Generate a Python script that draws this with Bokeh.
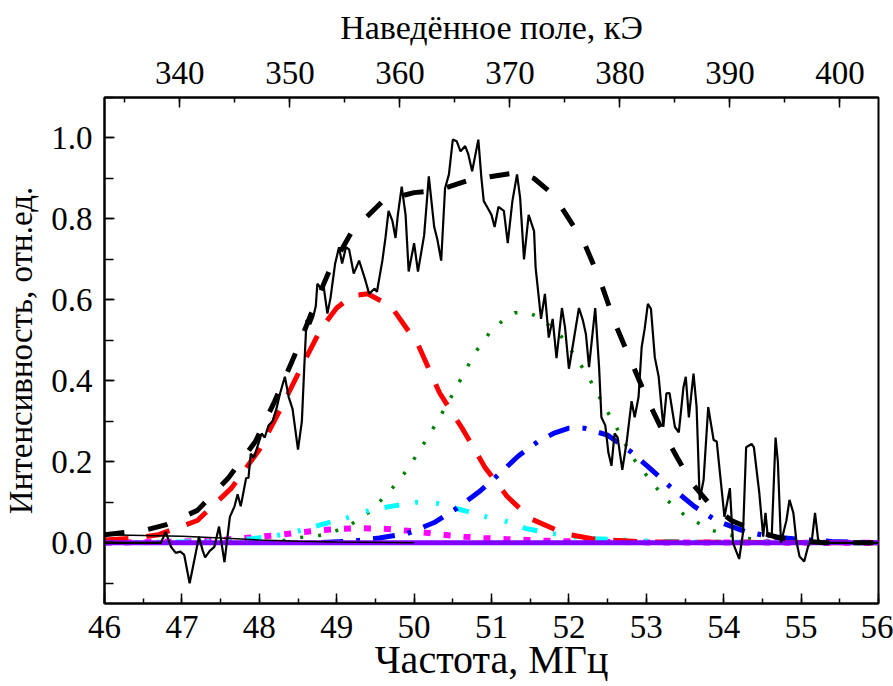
from bokeh.plotting import figure
from bokeh.models import Range1d, LinearAxis, SingleIntervalTicker, PrintfTickFormatter
from bokeh.embed import file_html
from bokeh.resources import INLINE

# ---------------- data ----------------
exp_f = [46.0, 46.73, 46.79, 46.86, 46.92, 46.98, 47.03, 47.1, 47.17, 47.22, 47.27, 47.3, 47.36, 47.42,
         47.48, 47.55, 47.62, 47.68, 47.72, 47.76, 47.83, 47.86, 47.89, 47.93, 47.98, 48.03, 48.07,
         48.12, 48.17, 48.22, 48.27, 48.33, 48.38, 48.43, 48.5, 48.55, 48.58, 48.61, 48.66, 48.7,
         48.73, 48.75, 48.79, 48.83, 48.88, 48.92, 48.98, 49.03, 49.07, 49.12, 49.16, 49.22, 49.29,
         49.36, 49.42, 49.49, 49.52, 49.59, 49.63, 49.67, 49.72, 49.76, 49.79, 49.84, 49.89, 49.93,
         50.0, 50.05, 50.13, 50.19, 50.26, 50.3, 50.35, 50.4, 50.45, 50.5, 50.55, 50.6, 50.66, 50.7,
         50.75, 50.83, 50.87, 50.9, 50.96, 51.0, 51.04, 51.09, 51.16, 51.21, 51.27, 51.33, 51.37,
         51.42, 51.48, 51.55, 51.57, 51.64, 51.69, 51.74, 51.79, 51.84, 51.91, 51.95, 52.0, 52.04,
         52.13, 52.18, 52.22, 52.26, 52.34, 52.39, 52.42, 52.47, 52.51, 52.55, 52.59, 52.63, 52.69,
         52.75, 52.81, 52.85, 52.9, 52.94, 52.98, 53.02, 53.06, 53.11, 53.16, 53.22, 53.26, 53.3,
         53.37, 53.42, 53.48, 53.51, 53.55, 53.61, 53.65, 53.69, 53.74, 53.8, 53.87, 53.91, 53.95,
         54.01, 54.08, 54.12, 54.2, 54.25, 54.29, 54.36, 54.39, 54.46, 54.51, 54.54, 54.57, 54.62,
         54.67, 54.7, 54.74, 54.81, 54.85, 54.9, 54.94, 54.98, 55.04, 55.09, 55.14, 55.18, 55.22,
         55.27, 56.0]
exp_v = [0.0, 0.0, 0.027, -0.01, -0.025, -0.022, -0.03, -0.10, -0.034, 0.015, -0.02, -0.036, -0.02, -0.01,
         0.04, -0.048, 0.064, 0.09, 0.12, 0.09, 0.16, 0.16, 0.22, 0.21, 0.24, 0.27, 0.26,
         0.29, 0.30, 0.33, 0.37, 0.41, 0.36, 0.33, 0.23, 0.30, 0.43, 0.55, 0.54, 0.56,
         0.585, 0.64, 0.63, 0.635, 0.566, 0.605, 0.69, 0.73, 0.69, 0.73, 0.725, 0.665, 0.697,
         0.655, 0.615, 0.628, 0.62, 0.697, 0.753, 0.82, 0.795, 0.753, 0.81, 0.88, 0.81, 0.67,
         0.74, 0.67, 0.76, 0.905, 0.78, 0.75, 0.697, 0.876, 0.91, 0.996, 0.992, 0.967, 0.98, 0.96,
         0.918, 0.996, 0.9, 0.844, 0.824, 0.81, 0.78, 0.83, 0.82, 0.74, 0.844, 0.91, 0.852,
         0.70, 0.81, 0.77, 0.68, 0.553, 0.615, 0.507, 0.553, 0.456, 0.58, 0.532, 0.43, 0.475,
         0.58, 0.55, 0.515, 0.434, 0.58, 0.434, 0.31, 0.29, 0.223, 0.19, 0.27, 0.26, 0.18,
         0.254, 0.35, 0.31, 0.36, 0.483, 0.53, 0.59, 0.578, 0.458, 0.41, 0.286, 0.369, 0.37,
         0.286, 0.273, 0.384, 0.41, 0.31, 0.418, 0.335, 0.106, 0.155, 0.335, 0.254, 0.25, 0.175,
         0.064, 0.135, 0.0, -0.04, 0.025, 0.236, 0.244, 0.236, 0.123, 0.015, 0.074, 0.015, 0.015,
         0.26, 0.2, 0.0, 0.055, 0.106, 0.074, 0.003, -0.034, -0.046, -0.009, 0.008, 0.074, 0.008,
         0.0, 0.0]

base_f = [46.0, 47.0, 47.5, 48.0, 48.5, 49.0, 50.0]
base_v = [0.02, 0.016, 0.012, 0.007, 0.004, 0.002, 0.0]

fit_f = [46.0, 46.5, 46.8, 47.2, 47.6, 47.95, 48.2, 48.45, 48.7, 48.9, 49.2, 49.6, 50.0, 50.3, 50.7,
         51.0, 51.35, 51.55, 51.8, 52.0, 52.2, 52.4, 52.6, 52.8, 53.0, 53.2, 53.4, 53.6, 53.8,
         54.1, 54.4, 54.7, 55.0, 55.3, 56.0]
fit_v = [0.02, 0.03, 0.045, 0.08, 0.16, 0.25, 0.35, 0.46, 0.58, 0.67, 0.77, 0.845, 0.865, 0.87, 0.895,
         0.905, 0.915, 0.90, 0.86, 0.80, 0.74, 0.65, 0.54, 0.45, 0.36, 0.28, 0.21, 0.145, 0.10,
         0.055, 0.03, 0.013, 0.005, 0.0, 0.0]

red_f = [46.0, 46.4, 46.7, 47.2, 47.64, 48.0, 48.3, 48.56, 48.8, 49.0, 49.2, 49.4, 49.7, 50.05, 50.33,
         50.63, 50.92, 51.2, 51.5, 51.95, 52.3, 52.6, 53.0, 56.0]
red_v = [0.007, 0.012, 0.02, 0.055, 0.135, 0.23, 0.34, 0.44, 0.53, 0.58, 0.61, 0.615, 0.585, 0.49, 0.37,
         0.28, 0.185, 0.115, 0.06, 0.022, 0.01, 0.006, 0.002, 0.0]

green_f = [48.3, 48.52, 48.86, 49.16, 49.43, 49.68, 49.91, 50.1, 50.27, 50.45, 50.62, 50.79, 50.98,
           51.15, 51.3, 51.45, 51.63, 51.9, 52.1, 52.28, 52.46, 52.64, 52.81, 53.03, 53.24, 53.52,
           53.86, 54.21, 54.57, 55.0, 56.0]
green_v = [0.005, 0.013, 0.02, 0.042, 0.077, 0.126, 0.18, 0.237, 0.29, 0.35, 0.41, 0.47, 0.52,
           0.55, 0.568, 0.57, 0.556, 0.51, 0.456, 0.40, 0.337, 0.276, 0.214, 0.16, 0.11, 0.064,
           0.03, 0.013, 0.005, 0.001, 0.0]

blue_f = [48.8, 49.2, 49.55, 49.9, 50.26, 50.55, 50.84, 51.1, 51.35, 51.6, 51.8, 52.0, 52.2, 52.5,
          52.8, 53.04, 53.3, 53.62, 53.9, 54.29, 54.65, 55.04, 55.4, 56.0]
blue_v = [0.001, 0.004, 0.012, 0.022, 0.05, 0.085, 0.126, 0.17, 0.215, 0.25, 0.27, 0.283, 0.283, 0.266,
          0.225, 0.185, 0.14, 0.09, 0.055, 0.027, 0.014, 0.008, 0.003, 0.0]

cyan_f = [46.0, 47.0, 47.5, 47.9, 48.2, 48.47, 48.8, 49.14, 49.42, 49.7, 50.04, 50.3, 50.6, 50.97,
          51.17, 51.45, 51.78, 52.0, 52.35, 52.9, 53.5, 56.0]
cyan_v = [0.0, 0.002, 0.005, 0.01, 0.017, 0.027, 0.045, 0.062, 0.08, 0.09, 0.1, 0.097, 0.082, 0.062,
          0.054, 0.035, 0.023, 0.016, 0.01, 0.005, 0.002, 0.0]

mag_f = [46.0, 47.0, 47.5, 47.95, 48.24, 48.5, 48.8, 49.04, 49.3, 49.58, 49.85, 50.1, 50.37, 50.65,
         50.9, 51.2, 51.45, 51.7, 52.2, 53.0, 56.0]
mag_v = [0.0, 0.003, 0.007, 0.014, 0.019, 0.025, 0.031, 0.034, 0.036, 0.035, 0.031, 0.026, 0.02, 0.015,
         0.012, 0.009, 0.007, 0.005, 0.003, 0.001, 0.0]

zero_f = [46.0, 56.0]
zero_v = [0.0, 0.0]

x_label = "Частота, МГц"
top_label = "Наведённое поле, кЭ"
y_label = "Интенсивность, отн.ед."
field_range = (333.15, 403.5)

# ---------------- figure ----------------
FONT = "Liberation Serif"
p = figure(width=893, height=686, x_range=Range1d(46, 56), y_range=Range1d(-0.15, 1.1),
           output_backend="svg", toolbar_location=None,
           min_border_left=101, min_border_right=15, min_border_top=97, min_border_bottom=83)
p.extra_x_ranges = {"field": Range1d(*field_range)}
p.grid.visible = False
p.background_fill_color = "white"
p.border_fill_color = "white"
p.outline_line_color = "black"
p.outline_line_width = 2

p.line(green_f, green_v, line_color="#008000", line_width=3.5, line_dash="3 15")
p.line(mag_f, mag_v, line_color="#FF00FF", line_width=6, line_dash="7 13")
p.line(cyan_f, cyan_v, line_color="#00FFFF", line_width=5, line_dash="15 16 3 18 3 16")
p.line(blue_f, blue_v, line_color="#0000FF", line_width=5, line_dash="22 13 4 13")
p.line(red_f, red_v, line_color="#FF0000", line_width=5, line_dash="24 18")
p.line(zero_f, zero_v, line_color="#8000FF", line_width=5)
p.line(base_f, base_v, line_color="black", line_width=1.5)
p.line(exp_f, exp_v, line_color="black", line_width=2.2)
p.line(fit_f, fit_v, line_color="black", line_width=5, line_dash="20 24")


def style(ax, minor_in, label_size):
    ax.axis_line_width = 2
    ax.major_tick_in = 10
    ax.major_tick_out = 0
    ax.minor_tick_in = minor_in
    ax.minor_tick_out = 0
    ax.major_tick_line_width = 1.5
    ax.minor_tick_line_width = 1.5
    ax.major_label_text_font = FONT
    ax.major_label_text_font_size = "33px"
    ax.major_label_text_color = "black"
    ax.axis_label_text_font = FONT
    ax.axis_label_text_font_size = label_size
    ax.axis_label_text_font_style = "normal"
    ax.axis_label_text_color = "black"


xa = p.xaxis[0]
xa.ticker = SingleIntervalTicker(interval=1, num_minor_ticks=2)
xa.axis_label = x_label
style(xa, 5, "40px")
xa.major_label_standoff = 12
xa.axis_label_standoff = -4

ya = p.yaxis[0]
ya.ticker = SingleIntervalTicker(interval=0.2, num_minor_ticks=2)
ya.formatter = PrintfTickFormatter(format="%.1f")
ya.axis_label = y_label
style(ya, 9, "33px")
ya.major_label_standoff = 12
ya.axis_label_standoff = 9

top = LinearAxis(x_range_name="field", axis_label=top_label,
                 ticker=SingleIntervalTicker(interval=10, num_minor_ticks=2))
style(top, 5, "34px")
top.major_label_standoff = 14
top.axis_label_standoff = 13
p.add_layout(top, "above")

open("out.html", "w").write(file_html(p, INLINE))
